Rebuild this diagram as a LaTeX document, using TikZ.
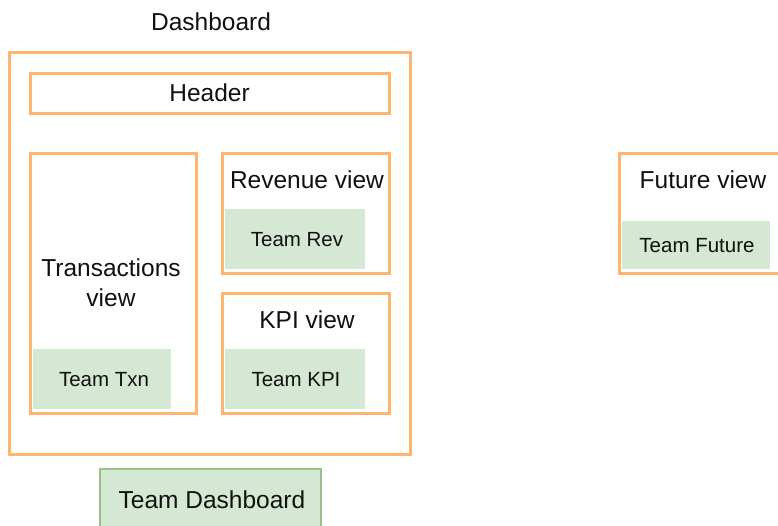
\documentclass[tikz,border=0pt]{standalone}
\usepackage{fontspec}
\setmainfont{Liberation Sans}
\definecolor{orng}{HTML}{FFB570}
\definecolor{grfill}{HTML}{D5E8D4}
\definecolor{grline}{HTML}{97C08A}
\definecolor{txt}{HTML}{111111}
\tikzset{
  view/.style={draw=orng, line width=3pt, fill=white, inner sep=0pt},
  team/.style={fill=grfill, draw=none, inner sep=0pt},
  big/.style={font=\fontsize{24.5}{30}\selectfont, text=txt, inner sep=0pt, align=center},
  small/.style={font=\fontsize{20.5}{24}\selectfont, text=txt, inner sep=0pt},
}
\begin{document}
\begin{tikzpicture}[x=1pt,y=-1pt]
\useasboundingbox (0,0) rectangle (778,525);
\node[view, minimum width=401pt, minimum height=402pt] (dash) at (209.5,253) {};
\node[big] (dashlbl) at (211,22) {Dashboard};
\node[view, minimum width=359pt, minimum height=40pt] (header) at (209.5,93) {};
\node[big] at (header.center) {Header};
% Transactions
\node[view, minimum width=166pt, minimum height=260pt] (txn) at (113,283) {};
\node[big] (txnlbl) at (111,283) {Transactions\\view};
\node[team, minimum width=138pt, minimum height=60pt] (teamtxn) at (102,379) {};
\node[small] at (104,380) {Team Txn};
% Revenue
\node[view, minimum width=167pt, minimum height=120pt] (rev) at (305.5,213) {};
\node[big] (revlbl) at (307,180) {Revenue view};
\node[team, minimum width=140pt, minimum height=60pt] (teamrev) at (295,239) {};
\node[small] at (297,240) {Team Rev};
% KPI
\node[view, minimum width=167pt, minimum height=120pt] (kpi) at (305.5,353) {};
\node[big] (kpilbl) at (307,320) {KPI view};
\node[team, minimum width=140pt, minimum height=60pt] (teamkpi) at (295,379) {};
\node[small] at (296,380) {Team KPI};
% Future
\node[view, minimum width=167pt, minimum height=120pt] (fut) at (702.5,213) {};
\node[big] (futlbl) at (703,180) {Future view};
\node[team, minimum width=148pt, minimum height=48pt] (teamfut) at (696,245) {};
\node[small] at (697,246) {Team Future};
% Team Dashboard
\node[fill=grfill, draw=grline, line width=2pt, minimum width=221pt, minimum height=60pt, inner sep=0pt] (teamdash) at (210.5,499) {};
\node[big] at (212,500) {Team Dashboard};
\end{tikzpicture}
\end{document}
